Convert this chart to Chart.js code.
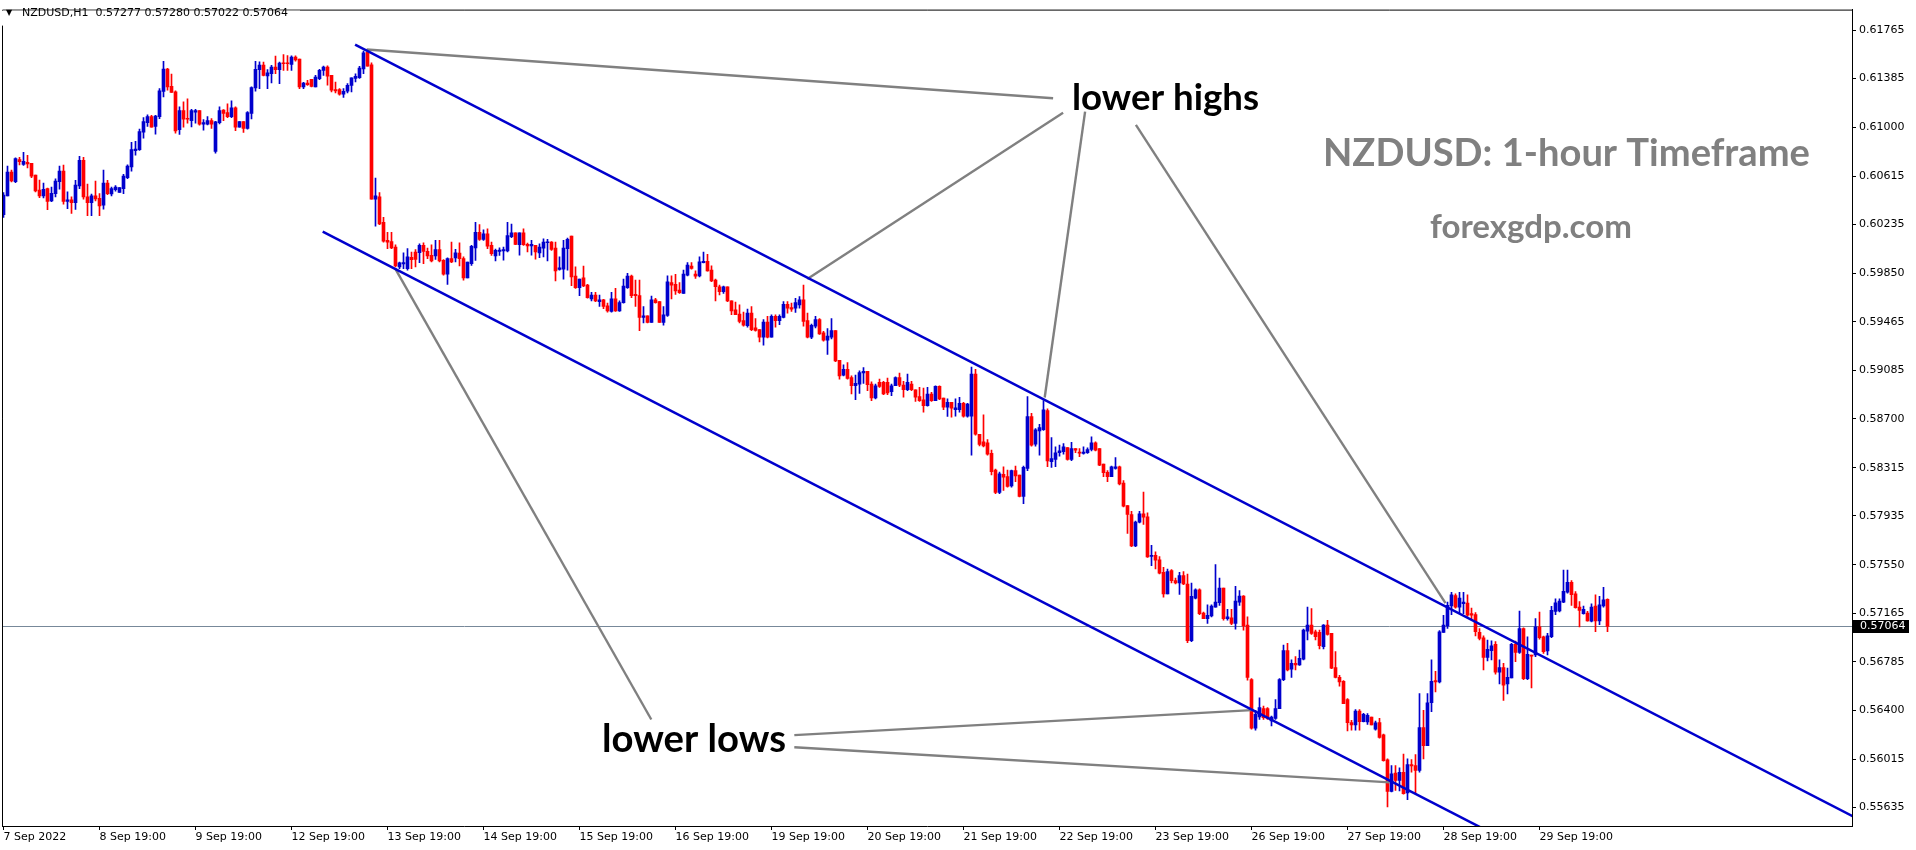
<!DOCTYPE html>
<html><head><meta charset="utf-8">
<script src="https://cdn.jsdelivr.net/npm/chart.js@4.4.1/dist/chart.umd.min.js"></script>
<style>html,body{margin:0;padding:0;background:#fff;overflow:hidden}canvas{display:block}</style>
</head><body>
<canvas id="c" width="1916" height="850" style="width:1916px;height:850px"></canvas>
<script>
const symbol = "NZDUSD,H1";

const opens = [0.60311,0.60460,0.60647,0.60571,0.60746,0.60707,0.60725,0.60717,0.60624,0.60506,
0.60460,0.60517,0.60420,0.60478,0.60571,0.60655,0.60415,0.60428,0.60407,0.60538,
0.60741,0.60452,0.60407,0.60460,0.60441,0.60387,0.60561,0.60475,0.60509,0.60486,
0.60517,0.60603,0.60689,0.60816,0.60824,0.60962,0.61038,0.61085,0.61007,0.61085,
0.61283,0.61460,0.61324,0.61280,0.60981,0.61132,0.61072,0.61053,0.61119,0.61132,
0.61025,0.61025,0.61053,0.60811,0.61038,0.61137,0.61116,0.61085,0.61155,0.61001,
0.61046,0.60991,0.61111,0.61311,0.61455,0.61491,0.61405,0.61423,0.61476,0.61455,
0.61507,0.61507,0.61496,0.61554,0.61538,0.61319,0.61350,0.61379,0.61319,0.61384,
0.61450,0.61476,0.61410,0.61298,0.61298,0.61262,0.61285,0.61330,0.61387,0.61392,
0.61462,0.61593,0.61494,0.60433,0.60452,0.60251,0.60108,0.60100,0.60056,0.59899,
0.59923,0.59886,0.59975,0.60017,0.60011,0.60069,0.60022,0.59990,0.59985,0.60035,
0.59951,0.59842,0.59965,0.59970,0.60009,0.59965,0.59813,0.59925,0.60050,0.60173,
0.60116,0.60160,0.60069,0.59985,0.60022,0.60025,0.60025,0.60137,0.60168,0.60074,
0.60168,0.60077,0.60064,0.60069,0.60009,0.60048,0.60090,0.60095,0.60048,0.59879,
0.59881,0.60043,0.60142,0.59827,0.59736,0.59814,0.59756,0.59647,0.59678,0.59626,
0.59639,0.59592,0.59548,0.59647,0.59553,0.59618,0.59736,0.59827,0.59683,0.59673,
0.59501,0.59514,0.59462,0.59639,0.59626,0.59462,0.59517,0.59775,0.59762,0.59717,
0.59691,0.59835,0.59905,0.59842,0.59829,0.59933,0.59944,0.59874,0.59795,0.59743,
0.59704,0.59743,0.59631,0.59561,0.59527,0.59475,0.59436,0.59535,0.59418,0.59405,
0.59345,0.59465,0.59345,0.59509,0.59475,0.59501,0.59605,0.59579,0.59574,0.59600,
0.59639,0.59475,0.59345,0.59431,0.59483,0.59379,0.59321,0.59345,0.59397,0.59162,
0.59045,0.59092,0.59027,0.58962,0.58975,0.59063,0.59076,0.58975,0.58865,0.58988,
0.58988,0.58988,0.58915,0.58962,0.59027,0.58967,0.58930,0.58975,0.58930,0.58876,
0.58850,0.58805,0.58897,0.58845,0.58957,0.58865,0.58792,0.58831,0.58774,0.58774,
0.58824,0.58722,0.58722,0.59053,0.58579,0.58519,0.58511,0.58428,0.58297,0.58120,
0.58263,0.58245,0.58172,0.58292,0.58258,0.58089,0.58310,0.58719,0.58501,0.58605,
0.58615,0.58766,0.58362,0.58381,0.58433,0.58441,0.58474,0.58381,0.58467,0.58438,
0.58428,0.58433,0.58459,0.58511,0.58467,0.58344,0.58279,0.58245,0.58310,0.58323,
0.58193,0.58016,0.57946,0.57698,0.57886,0.57951,0.57927,0.57615,0.57625,0.57589,
0.57490,0.57320,0.57503,0.57425,0.57406,0.57464,0.57398,0.56950,0.57286,0.57352,
0.57169,0.57125,0.57146,0.57216,0.57250,0.57365,0.57125,0.57130,0.57086,0.57255,
0.57302,0.57073,0.56643,0.56260,0.56349,0.56416,0.56416,0.56317,0.56338,0.56414,
0.56643,0.56872,0.56726,0.56773,0.56760,0.56804,0.57026,0.57073,0.57021,0.57016,
0.56903,0.57073,0.57008,0.56739,0.56661,0.56630,0.56487,0.56304,0.56286,0.56395,
0.56312,0.56310,0.56349,0.56252,0.56304,0.56208,0.56010,0.55762,0.55906,0.55848,
0.55913,0.55749,0.55973,0.55966,0.55927,0.56265,0.56122,0.56461,0.56635,0.56625,
0.57016,0.57068,0.57224,0.57307,0.57216,0.57242,0.57247,0.57164,0.57156,0.57016,
0.56974,0.56818,0.56872,0.56922,0.56703,0.56739,0.56609,0.56656,0.56922,0.56859,
0.57047,0.56651,0.56838,0.56838,0.57060,0.56982,0.56870,0.56982,0.57182,0.57185,
0.57255,0.57333,0.57411,0.57320,0.57216,0.57164,0.57169,0.57104,0.57224,0.57107,
0.57224,0.57277];

const highs = [0.60486,0.60694,0.60663,0.60759,0.60764,0.60803,0.60780,0.60717,0.60624,0.60585,
0.60561,0.60522,0.60530,0.60595,0.60694,0.60702,0.60491,0.60452,0.60582,0.60772,
0.60764,0.60553,0.60473,0.60577,0.60478,0.60663,0.60582,0.60530,0.60540,0.60525,
0.60629,0.60704,0.60882,0.60889,0.60986,0.61077,0.61098,0.61095,0.61095,0.61306,
0.61522,0.61465,0.61421,0.61288,0.61163,0.61202,0.61225,0.61142,0.61142,0.61132,
0.61061,0.61085,0.61069,0.61048,0.61163,0.61140,0.61186,0.61210,0.61163,0.61046,
0.61046,0.61125,0.61319,0.61522,0.61517,0.61515,0.61455,0.61489,0.61562,0.61515,
0.61575,0.61567,0.61564,0.61564,0.61538,0.61356,0.61371,0.61379,0.61410,0.61457,
0.61483,0.61486,0.61410,0.61358,0.61306,0.61306,0.61345,0.61390,0.61423,0.61481,
0.61601,0.61611,0.61509,0.60600,0.60486,0.60290,0.60173,0.60173,0.60074,0.59938,
0.60011,0.60043,0.60017,0.60035,0.60082,0.60090,0.60048,0.60074,0.60108,0.60108,
0.59957,0.59970,0.60095,0.60037,0.60090,0.59978,0.59938,0.60069,0.60251,0.60233,
0.60191,0.60199,0.60095,0.60040,0.60050,0.60056,0.60251,0.60238,0.60168,0.60168,
0.60199,0.60087,0.60108,0.60069,0.60082,0.60121,0.60116,0.60100,0.60095,0.59978,
0.60108,0.60126,0.60142,0.59900,0.59803,0.59905,0.59762,0.59699,0.59699,0.59678,
0.59644,0.59613,0.59699,0.59730,0.59631,0.59803,0.59848,0.59835,0.59795,0.59795,
0.59587,0.59514,0.59670,0.59652,0.59626,0.59587,0.59829,0.59829,0.59840,0.59775,
0.59874,0.59933,0.59933,0.59868,0.59978,0.60017,0.59999,0.59907,0.59803,0.59756,
0.59749,0.59743,0.59631,0.59621,0.59600,0.59543,0.59566,0.59587,0.59491,0.59405,
0.59483,0.59509,0.59522,0.59522,0.59522,0.59626,0.59626,0.59613,0.59652,0.59665,
0.59756,0.59535,0.59449,0.59509,0.59491,0.59392,0.59412,0.59491,0.59397,0.59162,
0.59126,0.59144,0.59040,0.59045,0.59079,0.59105,0.59076,0.58993,0.58975,0.59014,
0.58996,0.59022,0.58975,0.59032,0.59061,0.58996,0.59053,0.58996,0.58930,0.58949,
0.58944,0.58949,0.58910,0.58962,0.58962,0.58865,0.58858,0.58831,0.58858,0.58871,
0.58831,0.58824,0.59110,0.59092,0.58579,0.58733,0.58537,0.58454,0.58305,0.58280,
0.58323,0.58297,0.58297,0.58329,0.58258,0.58329,0.58876,0.58745,0.58623,0.58657,
0.58844,0.58779,0.58553,0.58480,0.58493,0.58506,0.58474,0.58516,0.58467,0.58467,
0.58480,0.58472,0.58558,0.58519,0.58467,0.58344,0.58292,0.58329,0.58396,0.58329,
0.58214,0.58016,0.57972,0.57894,0.57972,0.58123,0.57959,0.57703,0.57651,0.57615,
0.57529,0.57516,0.57511,0.57445,0.57490,0.57495,0.57477,0.57406,0.57359,0.57359,
0.57177,0.57234,0.57234,0.57552,0.57445,0.57365,0.57198,0.57198,0.57380,0.57346,
0.57307,0.57138,0.56651,0.56401,0.56500,0.56435,0.56422,0.56356,0.56487,0.56651,
0.56917,0.56930,0.56799,0.56825,0.56877,0.57042,0.57216,0.57203,0.57034,0.57034,
0.57078,0.57112,0.57008,0.56864,0.56677,0.56635,0.56494,0.56323,0.56408,0.56408,
0.56377,0.56375,0.56349,0.56317,0.56338,0.56213,0.56018,0.55966,0.55966,0.55947,
0.56057,0.56018,0.56012,0.56052,0.56534,0.56401,0.56534,0.56799,0.56708,0.57031,
0.57151,0.57255,0.57333,0.57320,0.57333,0.57333,0.57313,0.57208,0.57172,0.57047,
0.56989,0.56956,0.56950,0.56943,0.56799,0.56773,0.56734,0.56930,0.56948,0.57185,
0.57052,0.56982,0.56838,0.57125,0.57177,0.56987,0.57008,0.57221,0.57281,0.57281,
0.57508,0.57508,0.57425,0.57339,0.57260,0.57224,0.57182,0.57242,0.57313,0.57300,
0.57372,0.57280];

const lows = [0.60290,0.60460,0.60569,0.60564,0.60704,0.60699,0.60681,0.60603,0.60491,0.60446,
0.60444,0.60350,0.60413,0.60452,0.60512,0.60394,0.60358,0.60321,0.60353,0.60517,
0.60433,0.60303,0.60303,0.60420,0.60303,0.60355,0.60470,0.60460,0.60496,0.60486,
0.60478,0.60595,0.60655,0.60780,0.60819,0.60915,0.61007,0.61001,0.60947,0.61069,
0.61241,0.61293,0.61275,0.60954,0.60944,0.61001,0.61033,0.61004,0.61033,0.61017,
0.60978,0.61020,0.60991,0.60796,0.61027,0.61053,0.61077,0.61077,0.60975,0.61001,
0.60960,0.60985,0.61067,0.61285,0.61306,0.61405,0.61306,0.61350,0.61423,0.61345,
0.61450,0.61450,0.61450,0.61522,0.61306,0.61306,0.61330,0.61319,0.61319,0.61377,
0.61410,0.61332,0.61280,0.61272,0.61254,0.61236,0.61272,0.61280,0.61358,0.61387,
0.61423,0.61483,0.60433,0.60220,0.60233,0.60095,0.60043,0.60043,0.59899,0.59886,
0.59886,0.59873,0.59886,0.59899,0.59933,0.59925,0.59965,0.59938,0.59959,0.59938,
0.59834,0.59761,0.59933,0.59938,0.59907,0.59795,0.59813,0.59912,0.59951,0.60108,
0.60108,0.60043,0.59990,0.59946,0.59990,0.59952,0.60017,0.60129,0.60074,0.59991,
0.60069,0.60017,0.59991,0.59960,0.59973,0.59978,0.59947,0.60030,0.59788,0.59874,
0.59803,0.59874,0.59751,0.59730,0.59673,0.59743,0.59652,0.59631,0.59626,0.59587,
0.59569,0.59543,0.59543,0.59548,0.59548,0.59613,0.59730,0.59657,0.59587,0.59397,
0.59457,0.59457,0.59462,0.59613,0.59462,0.59439,0.59509,0.59647,0.59683,0.59691,
0.59691,0.59829,0.59881,0.59808,0.59821,0.59931,0.59866,0.59782,0.59631,0.59678,
0.59691,0.59626,0.59522,0.59522,0.59457,0.59431,0.59423,0.59397,0.59392,0.59308,
0.59282,0.59340,0.59345,0.59423,0.59444,0.59496,0.59535,0.59548,0.59540,0.59574,
0.59431,0.59340,0.59334,0.59418,0.59366,0.59313,0.59209,0.59332,0.59152,0.59014,
0.59040,0.59014,0.58897,0.58852,0.58902,0.58980,0.58923,0.58845,0.58858,0.58949,
0.58891,0.58891,0.58884,0.58962,0.58954,0.58871,0.58923,0.58923,0.58839,0.58839,
0.58753,0.58800,0.58839,0.58845,0.58852,0.58774,0.58719,0.58714,0.58722,0.58753,
0.58714,0.58714,0.58415,0.58571,0.58488,0.58480,0.58415,0.58258,0.58110,0.58110,
0.58136,0.58162,0.58162,0.58206,0.58084,0.58032,0.58292,0.58485,0.58485,0.58415,
0.58610,0.58323,0.58318,0.58323,0.58407,0.58422,0.58375,0.58370,0.58433,0.58402,
0.58422,0.58428,0.58448,0.58448,0.58331,0.58245,0.58206,0.58245,0.58303,0.58180,
0.58006,0.57797,0.57693,0.57693,0.57880,0.57867,0.57607,0.57542,0.57516,0.57477,
0.57294,0.57320,0.57406,0.57398,0.57315,0.57393,0.56935,0.56943,0.57281,0.57156,
0.57125,0.57086,0.57138,0.57216,0.57229,0.57112,0.57112,0.57078,0.57042,0.57229,
0.57034,0.56640,0.56252,0.56244,0.56330,0.56330,0.56330,0.56278,0.56330,0.56414,
0.56635,0.56713,0.56661,0.56721,0.56755,0.56799,0.56956,0.57000,0.56956,0.56885,
0.56885,0.56995,0.56729,0.56656,0.56591,0.56453,0.56239,0.56244,0.56244,0.56244,
0.56310,0.56291,0.56286,0.56244,0.56182,0.56000,0.55640,0.55757,0.55770,0.55765,
0.55739,0.55697,0.55914,0.55744,0.55914,0.56018,0.56122,0.56390,0.56547,0.56617,
0.57016,0.57047,0.57156,0.57208,0.57164,0.57164,0.57143,0.57125,0.56989,0.56956,
0.56721,0.56791,0.56799,0.56687,0.56609,0.56479,0.56531,0.56656,0.56786,0.56851,
0.56643,0.56643,0.56578,0.56825,0.56963,0.56851,0.56838,0.56974,0.57156,0.57177,
0.57250,0.57326,0.57229,0.57208,0.57060,0.57159,0.57104,0.57099,0.57021,0.57078,
0.57216,0.57022];

const closes = [0.60465,0.60647,0.60577,0.60754,0.60730,0.60733,0.60712,0.60616,0.60499,0.60460,
0.60512,0.60415,0.60480,0.60577,0.60655,0.60415,0.60428,0.60407,0.60545,0.60741,
0.60452,0.60407,0.60460,0.60436,0.60381,0.60561,0.60478,0.60517,0.60530,0.60525,
0.60616,0.60694,0.60824,0.60829,0.60967,0.61046,0.61085,0.61001,0.61090,0.61288,
0.61460,0.61319,0.61275,0.60973,0.61132,0.61064,0.61064,0.61132,0.61132,0.61025,
0.61038,0.61053,0.61025,0.61043,0.61132,0.61111,0.61085,0.61155,0.61001,0.61046,
0.60991,0.61116,0.61314,0.61457,0.61491,0.61410,0.61431,0.61476,0.61455,0.61507,
0.61502,0.61502,0.61554,0.61533,0.61319,0.61350,0.61337,0.61324,0.61397,0.61450,
0.61476,0.61403,0.61293,0.61288,0.61262,0.61285,0.61332,0.61390,0.61403,0.61468,
0.61588,0.61483,0.60433,0.60460,0.60238,0.60103,0.60095,0.60050,0.59907,0.59931,
0.59933,0.59978,0.59957,0.59959,0.60069,0.60022,0.59985,0.59946,0.60035,0.59946,
0.59842,0.59965,0.59938,0.60011,0.59965,0.59813,0.59938,0.60061,0.60173,0.60116,
0.60160,0.60063,0.60004,0.60030,0.60032,0.60035,0.60147,0.60168,0.60077,0.60168,
0.60074,0.60064,0.60077,0.60017,0.60056,0.60095,0.60095,0.60038,0.59868,0.59892,
0.60048,0.60116,0.59821,0.59736,0.59803,0.59749,0.59657,0.59678,0.59631,0.59639,
0.59587,0.59553,0.59647,0.59553,0.59618,0.59749,0.59827,0.59673,0.59673,0.59501,
0.59514,0.59462,0.59639,0.59618,0.59462,0.59522,0.59782,0.59756,0.59709,0.59696,
0.59842,0.59913,0.59887,0.59827,0.59939,0.59944,0.59868,0.59788,0.59743,0.59704,
0.59743,0.59631,0.59553,0.59522,0.59470,0.59439,0.59535,0.59405,0.59399,0.59345,
0.59465,0.59345,0.59509,0.59475,0.59509,0.59605,0.59574,0.59566,0.59618,0.59639,
0.59470,0.59345,0.59438,0.59483,0.59371,0.59321,0.59353,0.59397,0.59157,0.59040,
0.59092,0.59019,0.58962,0.58980,0.59066,0.59076,0.58970,0.58865,0.58962,0.58957,
0.58897,0.58905,0.58962,0.59027,0.58967,0.58930,0.58988,0.58930,0.58871,0.58845,
0.58805,0.58897,0.58845,0.58957,0.58858,0.58792,0.58831,0.58785,0.58787,0.58824,
0.58722,0.58818,0.59053,0.58579,0.58498,0.58488,0.58422,0.58284,0.58120,0.58266,
0.58240,0.58167,0.58292,0.58250,0.58089,0.58318,0.58719,0.58493,0.58615,0.58631,
0.58772,0.58368,0.58388,0.58433,0.58448,0.58480,0.58381,0.58467,0.58454,0.58430,
0.58438,0.58459,0.58511,0.58454,0.58336,0.58276,0.58245,0.58323,0.58323,0.58188,
0.58011,0.57946,0.57698,0.57886,0.57951,0.57925,0.57612,0.57625,0.57586,0.57484,
0.57320,0.57495,0.57425,0.57406,0.57464,0.57398,0.56950,0.57300,0.57352,0.57164,
0.57125,0.57151,0.57224,0.57255,0.57365,0.57125,0.57138,0.57086,0.57263,0.57302,
0.57068,0.56660,0.56260,0.56369,0.56422,0.56343,0.56338,0.56349,0.56416,0.56643,
0.56872,0.56721,0.56773,0.56760,0.56812,0.57034,0.57073,0.57008,0.56982,0.56911,
0.57073,0.57000,0.56734,0.56661,0.56625,0.56453,0.56304,0.56286,0.56395,0.56312,
0.56369,0.56362,0.56286,0.56302,0.56187,0.56005,0.55762,0.55900,0.55848,0.55913,
0.55744,0.55973,0.55963,0.55927,0.56265,0.56122,0.56461,0.56630,0.56625,0.57021,
0.57073,0.57229,0.57313,0.57216,0.57286,0.57255,0.57151,0.57151,0.57021,0.56969,
0.56818,0.56883,0.56911,0.56703,0.56739,0.56599,0.56661,0.56922,0.56859,0.57047,
0.56651,0.56844,0.56828,0.57060,0.56974,0.56864,0.56989,0.57190,0.57250,0.57263,
0.57341,0.57411,0.57313,0.57211,0.57190,0.57198,0.57107,0.57216,0.57107,0.57234,
0.57273,0.57064];

const xTickIndex = [0,24,48,72,96,120,144,168,192,216,240,264,288,312,336,360,384];
const xTickLabels = ["7 Sep 2022","8 Sep 19:00","9 Sep 19:00","12 Sep 19:00","13 Sep 19:00","14 Sep 19:00",
  "15 Sep 19:00","16 Sep 19:00","19 Sep 19:00","20 Sep 19:00","21 Sep 19:00","22 Sep 19:00",
  "23 Sep 19:00","26 Sep 19:00","27 Sep 19:00","28 Sep 19:00","29 Sep 19:00"];
const yTickValues = [0.61765,0.61385,0.61000,0.60615,0.60235,0.59850,0.59465,0.59085,0.58700,
  0.58315,0.57935,0.57550,0.57165,0.56785,0.56400,0.56015,0.55635];
const currentPrice = 0.57064;

// channel lines and pointer lines, as [barIndex, price] pairs
const channelUpper = [[87.9, 0.61653], [470, 0.55441]];
const channelLower = [[79.8, 0.60178], [400, 0.54979]];
const pointerLines = [
  [[90.8, 0.61614], [262.4, 0.61230]],
  [[200.95, 0.59803], [264.9, 0.61116]],
  [[260.3, 0.58869], [270.4, 0.61124]],
  [[283.1, 0.61019], [360.5, 0.57247]],
  [[97.9, 0.59887], [161.95, 0.56329]],
  [[197.7, 0.56206], [312.1, 0.56403]],
  [[197.7, 0.56110], [346.6, 0.55833]]
];

const BLUE = '#0000CD', RED = '#FF0000';
const N = closes.length;
const wickData = [], bodyData = [], colors = [];
for (let i = 0; i < N; i++) {
  wickData.push({x: i, y: [lows[i], highs[i]]});
  bodyData.push({x: i, y: [Math.min(opens[i], closes[i]), Math.max(opens[i], closes[i])]});
  colors.push(closes[i] >= opens[i] ? BLUE : RED);
}
const toPts = arr => arr.map(([x, y]) => ({x, y}));
const lineDs = (pts, color, w) => ({type: 'line', data: toPts(pts), borderColor: color, borderWidth: w,
  pointRadius: 0, fill: false, tension: 0, order: 0, clip: 0});

const datasets = [
  {label: 'wick', data: wickData, backgroundColor: colors, barThickness: 1, order: 2, grouped: false, minBarLength: 1, borderWidth: 0},
  {label: 'body', data: bodyData, backgroundColor: colors, barThickness: 3, order: 1, grouped: false, minBarLength: 1, borderWidth: 0},
  lineDs(channelUpper, BLUE, 2.5),
  lineDs(channelLower, BLUE, 2.5),
  ...pointerLines.map(p => lineDs(p, '#808080', 2.4))
];

const annotations = [
  {t: 'lower highs', x: 1072, base: 110, w: 187, color: '#000'},
  {t: 'lower lows', x: 602, base: 752, w: 184, color: '#000'},
  {t: 'NZDUSD: 1-hour Timeframe', x: 1323, base: 166, w: 487, color: '#808080'},
  {t: 'forexgdp.com', x: 1430, base: 238, w: 202, color: '#808080'}
];

const overlay = {
  id: 'overlay',
  beforeDraw(chart) {
    const c = chart.ctx; c.save(); c.fillStyle = '#fff'; c.fillRect(0, 0, chart.width, chart.height); c.restore();
  },
  beforeDatasetsDraw(chart) {
    const {ctx, chartArea: a, scales: {y}} = chart;
    const py = Math.round(y.getPixelForValue(currentPrice)) + 0.5;
    ctx.save(); ctx.strokeStyle = '#778899'; ctx.lineWidth = 1;
    ctx.beginPath(); ctx.moveTo(a.left, py); ctx.lineTo(a.right, py); ctx.stroke(); ctx.restore();
  },
  afterDraw(chart) {
    const {ctx, chartArea: a, scales: {y}} = chart;
    ctx.save();
    ctx.strokeStyle = '#000'; ctx.lineWidth = 1;
    ctx.beginPath();
    ctx.moveTo(a.left + 0.5, a.bottom); ctx.lineTo(a.left + 0.5, a.top + 0.5); ctx.lineTo(a.right, a.top + 0.5);
    ctx.stroke();
    // header
    ctx.fillStyle = '#fff'; ctx.fillRect(0, a.top + 1, 300, 15);
    ctx.fillStyle = '#000'; ctx.textBaseline = 'middle'; ctx.textAlign = 'left';
    ctx.font = '8px "DejaVu Sans"'; ctx.fillText('\u25BC', 6, 13);
    ctx.font = '11px "DejaVu Sans"';
    const last = N - 1;
    ctx.fillText(symbol + '  ' + [opens[last], highs[last], lows[last], closes[last]].map(v => v.toFixed(5)).join(' '), 22, 13);
    // current price label
    const py = Math.round(y.getPixelForValue(currentPrice));
    ctx.fillStyle = '#000'; ctx.fillRect(a.right + 1, py - 6, 56, 13);
    ctx.fillStyle = '#fff'; ctx.fillText(currentPrice.toFixed(5), a.right + 8, py + 0.5);
    // annotation texts
    ctx.textBaseline = 'alphabetic';
    for (const an of annotations) {
      ctx.font = 'bold 100px Lato';
      const m = ctx.measureText(an.t).width;
      const size = 100 * an.w / m;
      ctx.font = 'bold ' + size.toFixed(2) + 'px Lato';
      ctx.fillStyle = an.color;
      ctx.fillText(an.t, an.x, an.base);
    }
    ctx.restore();
  }
};

new Chart(document.getElementById('c'), {
  type: 'bar',
  data: {datasets},
  options: {
    responsive: false, animation: false, devicePixelRatio: 1,
    layout: {padding: {left: 2, top: 2, right: 0, bottom: 0}},
    plugins: {legend: {display: false}, tooltip: {enabled: false}, title: {display: false}},
    scales: {
      x: {
        type: 'linear', offset: false, min: -0.375, max: 462.125,
        grid: {display: true, drawOnChartArea: false, drawTicks: true, tickLength: 4, color: '#000', offset: false},
        border: {display: true, color: '#000', width: 1},
        afterBuildTicks: s => { s.ticks = xTickIndex.map(v => ({value: v})); },
        afterFit: s => { s.height = 24; },
        ticks: {autoSkip: false, maxRotation: 0, minRotation: 0, align: 'start', padding: 1, color: '#000',
          font: {family: 'DejaVu Sans', size: 11},
          callback: v => { const k = xTickIndex.indexOf(v); return k >= 0 ? xTickLabels[k] : ''; }}
      },
      y: {
        type: 'linear', position: 'right', min: 0.554888, max: 0.619291,
        grid: {display: true, drawOnChartArea: false, drawTicks: true, tickLength: 4, color: '#000'},
        border: {display: true, color: '#000', width: 1},
        afterBuildTicks: s => { s.ticks = yTickValues.map(v => ({value: v})); },
        afterFit: s => { s.width = 64; },
        ticks: {autoSkip: false, padding: 3, color: '#000', font: {family: 'DejaVu Sans', size: 11},
          callback: v => Number(v).toFixed(5)}
      }
    }
  },
  plugins: [overlay]
});
</script>
</body></html>
